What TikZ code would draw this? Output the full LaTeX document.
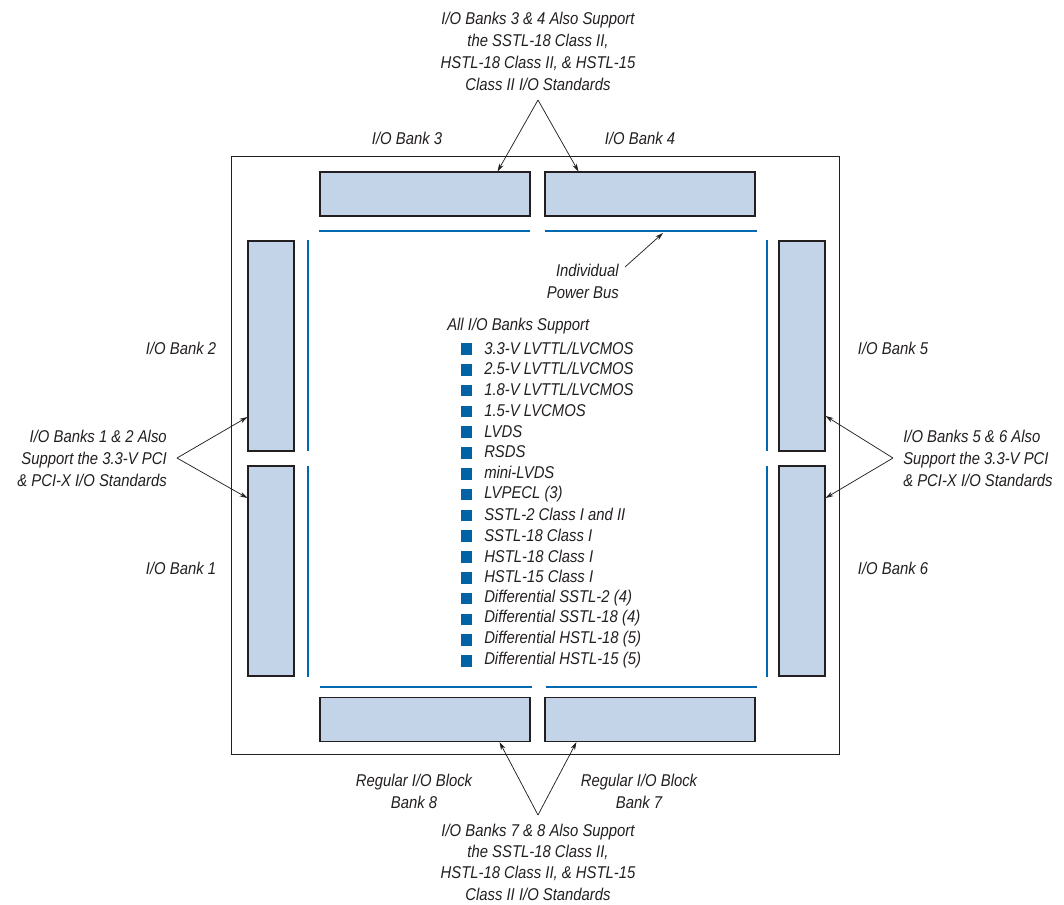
\documentclass[tikz,border=0pt]{standalone}
\usepackage{fontspec}
\setmainfont{Liberation Sans}[FakeStretch=0.87]
\usetikzlibrary{arrows.meta,calc}
\definecolor{bankfill}{RGB}{195,212,233}
\definecolor{busblue}{RGB}{0,104,176}
\definecolor{bulletblue}{RGB}{0,99,166}
\definecolor{ink}{RGB}{35,31,32}
\begin{document}
\begin{tikzpicture}[x=0.75pt,y=-0.75pt,
  lbl/.style={font=\fontsize{12.8}{16.5}\selectfont\itshape, inner sep=0pt, text=ink},
  hbank/.style={draw=ink, line width=0.8pt, fill=bankfill, minimum width=157.5pt, minimum height=33pt, inner sep=0pt},
  vbank/.style={draw=ink, line width=0.8pt, fill=bankfill, minimum width=34.5pt, minimum height=157.5pt, inner sep=0pt},
  bus/.style={draw=busblue, line width=0.8pt},
  arr/.style={draw=ink, line width=0.55pt, -{Stealth[length=6pt,width=3.6pt]}},
  bul/.style={fill=bulletblue, minimum size=8.6pt, inner sep=0pt},
]
\useasboundingbox (0,0) rectangle (1064,904);
% frame
\draw[ink, line width=0.75pt] (231,156) rectangle (839,754);
% banks
\node[hbank] (b3) at (425,194) {};
\node[hbank] (b4) at (650,194) {};
\node[hbank] (b8) at (425,719.5) {};
\node[hbank] (b7) at (650,719.5) {};
\node[vbank] (b2) at (271,346) {};
\node[vbank] (b1) at (271,571) {};
\node[vbank] (b5) at (802,346) {};
\node[vbank] (b6) at (802,571) {};
% power buses
\draw[bus] (319,231) -- (530,231);
\draw[bus] (545,231) -- (757,231);
\draw[bus] (320,687) -- (532,687);
\draw[bus] (546,687) -- (757,687);
\draw[bus] (308,240) -- (308,451);
\draw[bus] (308,466) -- (308,677);
\draw[bus] (767,240) -- (767,451);
\draw[bus] (767,466) -- (767,677);
\coordinate (pb) at (663,233);
% bank labels
\node[lbl] (l3) at (407,138) {I/O Bank 3};
\node[lbl] (l4) at (640,138) {I/O Bank 4};
\node[lbl] (l2) at (181,348) {I/O Bank 2};
\node[lbl] (l1) at (181,568) {I/O Bank 1};
\node[lbl] (l5) at (893,348) {I/O Bank 5};
\node[lbl] (l6) at (893,568) {I/O Bank 6};
\node[lbl, align=center] (l8) at (414,791) {Regular I/O Block\\Bank 8};
\node[lbl, align=center] (l7) at (639,791) {Regular I/O Block\\Bank 7};
% captions
\node[lbl, align=center] (ctop) at (538,51) {I/O Banks 3 \& 4 Also Support\\the SSTL-18 Class II,\\HSTL-18 Class II, \& HSTL-15\\Class II I/O Standards};
\node[lbl, align=center, font=\fontsize{12.8}{16}\selectfont\itshape] (cbot) at (538,862) {I/O Banks 7 \& 8 Also Support\\the SSTL-18 Class II,\\HSTL-18 Class II, \& HSTL-15\\Class II I/O Standards};
\node[lbl, align=right, anchor=east] (cleft) at (167,458) {I/O Banks 1 \& 2 Also\\Support the 3.3-V PCI\\\& PCI-X I/O Standards};
\node[lbl, align=left, anchor=west] (cright) at (903,458) {I/O Banks 5 \& 6 Also\\Support the 3.3-V PCI\\\& PCI-X I/O Standards};
\node[lbl, align=right, anchor=east] (pbus) at (619,281) {Individual\\Power Bus};
% apexes
\coordinate (atop) at (538,100);
\coordinate (abot) at (538,815);
\coordinate (aleft) at (177,458);
\coordinate (aright) at (893,458);
\coordinate (apb) at (625,267);
% arrows
\draw[arr] (atop) -- ($(b3.north east)+(-33,0)$);
\draw[arr] (atop) -- ($(b4.north west)+(34,0)$);
\draw[arr] (abot) -- ($(b8.south east)+(-31,0)$);
\draw[arr] (abot) -- ($(b7.south west)+(32,0)$);
\draw[arr] (aleft) -- ($(b2.west)+(0,71)$);
\draw[arr] (aleft) -- ($(b1.west)+(0,-73)$);
\draw[arr] (aright) -- ($(b5.east)+(0,70)$);
\draw[arr] (aright) -- ($(b6.east)+(0,-73)$);
\draw[arr] (apb) -- (pb);
% list
\node[lbl, anchor=west] (hdr) at (447,326) {All I/O Banks Support};
\foreach \t [count=\i from 0] in {3.3-V LVTTL/LVCMOS, 2.5-V LVTTL/LVCMOS, 1.8-V LVTTL/LVCMOS, 1.5-V LVCMOS, LVDS, RSDS, mini-LVDS, LVPECL (3), SSTL-2 Class I and II, SSTL-18 Class I, HSTL-18 Class I, HSTL-15 Class I, Differential SSTL-2 (4), Differential SSTL-18 (4), Differential HSTL-18 (5), Differential HSTL-15 (5)} {
  \node[bul] (sq\i) at (466.5,{349+20.8*\i}) {};
  \node[lbl, anchor=west] (it\i) at (484,{348+20.8*\i}) {\t};
}
\end{tikzpicture}
\end{document}
